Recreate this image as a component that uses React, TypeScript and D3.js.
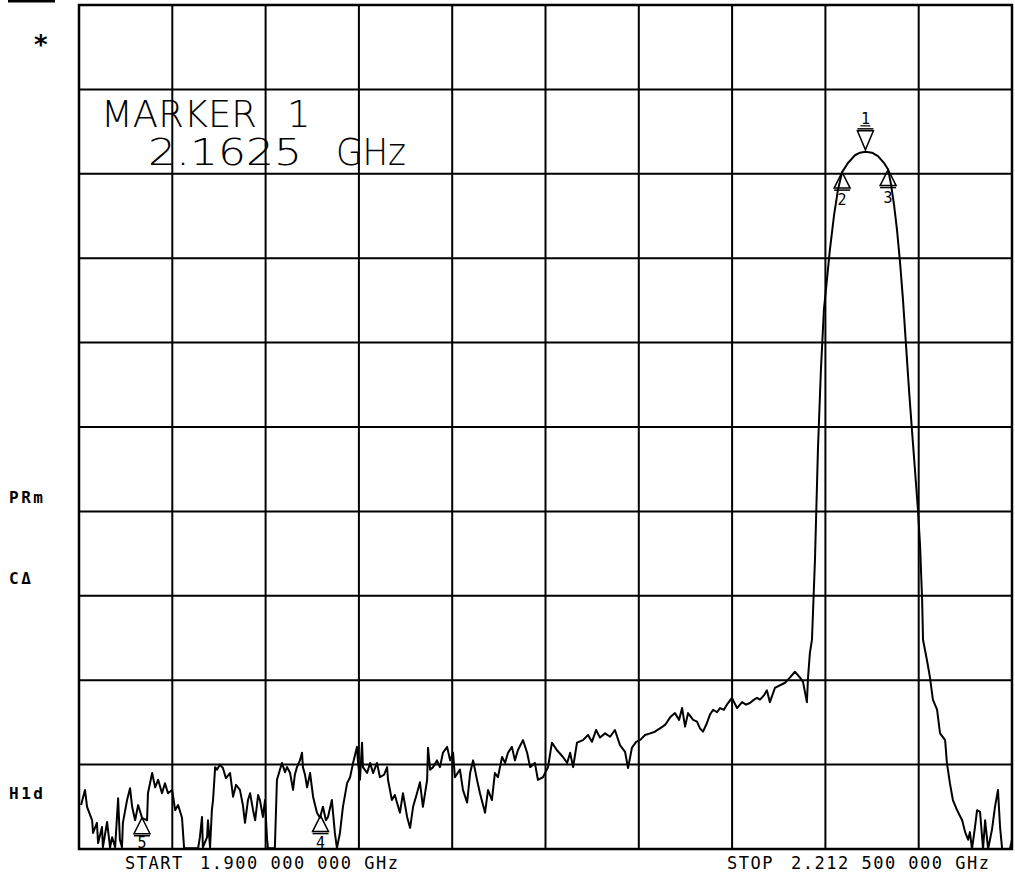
import * as d3 from 'd3'
import { useEffect, useRef } from 'react'

// trace: frequency (MHz) and level (dB, top of screen = 0 dB, 10 dB/div)
const freqMHz = [
  1900.7, 1902.0, 1902.7, 1904.4, 1904.7, 1906.0, 1906.4, 1907.7, 1908.0, 1909.4,
  1910.4, 1911.1, 1912.1, 1913.1, 1913.7, 1914.4, 1914.7, 1916.1, 1917.1, 1917.8,
  1918.8, 1919.8, 1921.1, 1922.8, 1923.1, 1924.5, 1925.5, 1926.5, 1927.8, 1928.8,
  1929.8, 1931.2, 1932.2, 1933.2, 1934.5, 1935.2, 1939.9, 1940.5, 1941.2, 1941.5,
  1942.9, 1943.2, 1943.9, 1944.5, 1944.9, 1945.6, 1946.2, 1947.2, 1948.2, 1949.2,
  1950.6, 1951.6, 1952.6, 1953.9, 1954.9, 1955.6, 1956.6, 1957.3, 1958.3, 1959.0,
  1960.0, 1960.6, 1961.6, 1962.3, 1963.0, 1963.3, 1965.6, 1966.3, 1967.3, 1968.0,
  1969.0, 1969.7, 1970.7, 1971.7, 1972.3, 1973.0, 1974.0, 1974.7, 1975.0, 1975.7,
  1976.4, 1977.4, 1978.4, 1979.7, 1980.7, 1981.7, 1982.7, 1983.4, 1984.7, 1985.7,
  1986.4, 1987.4, 1988.4, 1989.8, 1990.8, 1991.8, 1993.1, 1993.4, 1994.1, 1994.8,
  1995.1, 1996.5, 1997.5, 1998.5, 1999.8, 2000.8, 2002.2, 2003.2, 2003.5, 2004.8,
  2005.8, 2006.5, 2007.5, 2008.5, 2009.9, 2010.9, 2011.9, 2013.2, 2014.2, 2015.2,
  2016.6, 2016.9, 2017.6, 2018.6, 2019.9, 2020.9, 2021.9, 2023.3, 2024.3, 2025.3,
  2025.9, 2027.6, 2028.6, 2030.0, 2031.0, 2032.0, 2033.3, 2034.3, 2036.0, 2037.0,
  2038.3, 2039.3, 2040.3, 2041.7, 2042.7, 2043.7, 2045.0, 2046.0, 2047.0, 2048.7,
  2050.1, 2051.1, 2052.7, 2053.7, 2055.4, 2057.1, 2058.4, 2060.1, 2062.1, 2063.5,
  2064.5, 2065.5, 2066.8, 2068.8, 2070.5, 2071.8, 2073.2, 2074.5, 2076.2, 2077.9,
  2079.5, 2081.2, 2082.9, 2083.9, 2085.2, 2086.6, 2087.9, 2089.6, 2091.3, 2092.9,
  2094.6, 2096.3, 2098.0, 2099.6, 2101.0, 2102.0, 2103.0, 2104.0, 2105.7, 2107.0,
  2108.0, 2109.0, 2110.3, 2111.3, 2112.4, 2113.7, 2114.7, 2116.0, 2117.0, 2118.7,
  2120.4, 2122.1, 2123.4, 2124.7, 2126.1, 2127.1, 2128.1, 2129.4, 2130.4, 2131.4,
  2133.1, 2134.8, 2136.5, 2138.1, 2139.8, 2141.5, 2142.5, 2143.8, 2144.2, 2144.8,
  2145.5, 2146.5, 2147.5, 2148.5, 2149.5, 2150.5, 2151.5, 2152.9, 2154.2, 2155.6,
  2157.6, 2159.9, 2161.6, 2163.4, 2165.6, 2167.6, 2169.6, 2171.0, 2172.0, 2173.0,
  2174.0, 2175.0, 2176.0, 2177.0, 2178.0, 2179.0, 2180.0, 2181.0, 2181.7, 2182.4,
  2182.7, 2184.0, 2185.0, 2186.0, 2187.4, 2188.4, 2190.1, 2190.7, 2191.7, 2192.7,
  2194.1, 2195.8, 2196.8, 2197.8, 2198.4, 2199.1, 2200.1, 2200.8, 2201.8, 2202.8,
  2203.5, 2204.5, 2205.8, 2206.8, 2207.8, 2208.5, 2209.2, 2211.8, 2212.5,
]

const levelDb = [
  -94.8, -93.0, -95.0, -96.6, -98.1, -96.9, -99.3, -97.4, -99.8, -96.8,
  -99.8, -98.6, -99.8, -94.0, -98.9, -99.8, -96.9, -94.2, -92.8, -95.0,
  -96.6, -94.8, -96.3, -96.6, -93.4, -91.0, -92.7, -91.8, -93.4, -92.2,
  -93.4, -93.0, -95.4, -94.8, -96.3, -99.9, -99.9, -98.6, -96.2, -99.8,
  -98.6, -96.6, -99.8, -95.4, -94.2, -90.3, -90.6, -90.0, -90.4, -91.6,
  -91.0, -93.8, -92.4, -93.0, -94.8, -96.9, -94.2, -93.4, -95.4, -96.6,
  -93.6, -94.2, -96.2, -94.2, -98.9, -99.9, -99.9, -91.8, -90.6, -89.8,
  -90.9, -90.3, -91.0, -93.0, -91.2, -90.3, -89.5, -88.6, -90.3, -91.2,
  -92.7, -91.0, -93.8, -95.7, -96.3, -95.0, -96.6, -96.2, -94.2, -98.1,
  -99.9, -98.1, -95.0, -92.2, -91.5, -89.8, -87.9, -89.5, -91.8, -87.4,
  -90.3, -91.0, -89.8, -91.0, -89.8, -91.5, -91.2, -90.3, -91.8, -94.2,
  -93.6, -94.5, -95.7, -93.4, -96.2, -97.5, -95.0, -93.4, -92.1, -95.0,
  -91.8, -88.0, -90.6, -90.3, -89.5, -90.3, -88.6, -87.9, -89.5, -88.6,
  -91.5, -90.6, -93.0, -94.5, -91.0, -89.5, -91.8, -93.4, -95.7, -93.0,
  -94.2, -91.0, -91.5, -89.1, -89.8, -88.6, -87.9, -89.5, -88.3, -87.1,
  -88.6, -90.3, -89.8, -91.8, -91.5, -90.3, -87.4, -88.3, -89.1, -89.8,
  -88.6, -90.3, -87.4, -87.1, -86.5, -87.3, -85.9, -86.8, -86.3, -86.7,
  -85.9, -87.7, -88.5, -90.4, -88.0, -87.3, -87.1, -86.5, -86.3, -86.1,
  -85.7, -85.3, -84.4, -83.9, -84.7, -83.3, -85.5, -83.9, -84.7, -84.9,
  -85.7, -86.1, -85.1, -84.1, -83.5, -83.8, -83.3, -83.5, -82.9, -82.1,
  -83.3, -82.6, -82.9, -82.7, -82.3, -82.1, -82.3, -81.8, -81.2, -82.6,
  -80.9, -80.6, -80.3, -79.7, -79.0, -79.7, -80.2, -82.6, -79.6, -76.8,
  -75.2, -65.8, -52.7, -43.2, -36.1, -32.6, -29.0, -24.9, -21.9, -19.8,
  -18.7, -17.8, -17.5, -17.4, -17.5, -17.9, -18.7, -19.5, -21.3, -23.7,
  -26.7, -30.5, -35.0, -40.3, -45.6, -50.4, -55.1, -59.8, -64.0, -70.5,
  -75.2, -77.6, -79.6, -82.3, -83.5, -86.3, -87.1, -89.8, -92.2, -94.2,
  -95.4, -96.6, -98.0, -98.9, -98.0, -100, -97.4, -95.4, -95.6, -100,
  -96.6, -100, -97.7, -95.0, -93.0, -97.4, -100, -100, -98.9,
]

const markerIds = ['1', '2', '3', '4', '5']
const markerFreqMHz = [2163.4, 2155.6, 2171.0, 1980.9, 1921.1]
const markerPointsDown = [true, false, false, false, false]

const startLabel = ['START', '1.900 000 000 GHz']
const stopLabel = ['STOP', '2.212 500 000 GHz']
const markerReadout = ['MARKER', '1', '2.1625', 'GHz']
const sideLabels = ['PRm', 'CΔ', 'H1d']

const App = () => {
  const ref = useRef<SVGSVGElement>(null)

  useEffect(() => {
    const svg = d3.select(ref.current)
    svg.selectAll('*').remove()

    const left = 79
    const right = 1012
    const top = 5
    const bottom = 849

    const x = d3.scaleLinear().domain([1900, 2212.5]).range([left, right])
    const y = d3.scaleLinear().domain([-100, 0]).range([bottom, top])

    const mono = 'DejaVu Sans Mono, monospace'

    // graticule
    const g = svg.append('g')
    const xDivs = d3.range(1, 10).map((i) => 1900 + i * 31.25)
    const yDivs = d3.range(1, 10).map((i) => -100 + i * 10)

    g.selectAll('.vx')
      .data(xDivs)
      .enter()
      .append('line')
      .attr('x1', (d) => x(d))
      .attr('x2', (d) => x(d))
      .attr('y1', top)
      .attr('y2', bottom)
      .attr('stroke', '#000')
      .attr('stroke-width', 2)

    g.selectAll('.hy')
      .data(yDivs)
      .enter()
      .append('line')
      .attr('x1', left)
      .attr('x2', right)
      .attr('y1', (d) => y(d))
      .attr('y2', (d) => y(d))
      .attr('stroke', '#000')
      .attr('stroke-width', 2)

    g.append('rect')
      .attr('x', left)
      .attr('y', top)
      .attr('width', right - left)
      .attr('height', bottom - top)
      .attr('fill', 'none')
      .attr('stroke', '#000')
      .attr('stroke-width', 2.5)

    // trace
    const pts = freqMHz.map((f, i) => [f, levelDb[i]] as [number, number])
    const line = d3
      .line<[number, number]>()
      .x((d) => x(d[0]))
      .y((d) => y(d[1]))

    svg
      .append('path')
      .datum(pts)
      .attr('d', line)
      .attr('fill', 'none')
      .attr('stroke', '#000')
      .attr('stroke-width', 2)
      .attr('stroke-linejoin', 'round')

    // markers sit on the trace
    const levelAt = d3.scaleLinear().domain(freqMHz).range(levelDb)

    markerIds.forEach((id, i) => {
      const mx = x(markerFreqMHz[i])
      const my = y(levelAt(markerFreqMHz[i]))
      const mg = svg.append('g')
      if (markerPointsDown[i]) {
        mg.append('path')
          .attr('d', `M${mx - 8},${my - 21} L${mx + 8},${my - 21} L${mx},${my - 2} Z`)
          .attr('fill', 'none')
          .attr('stroke', '#000')
          .attr('stroke-width', 1.5)
        mg.append('line')
          .attr('x1', mx - 8)
          .attr('x2', mx + 8)
          .attr('y1', my - 23)
          .attr('y2', my - 23)
          .attr('stroke', '#000')
          .attr('stroke-width', 1.5)
        mg.append('text')
          .attr('x', mx)
          .attr('y', my - 28)
          .attr('text-anchor', 'middle')
          .attr('font-family', mono)
          .attr('font-size', 15)
          .text(id)
        mg.append('line')
          .attr('x1', mx - 5)
          .attr('x2', mx + 5)
          .attr('y1', my - 26)
          .attr('y2', my - 26)
          .attr('stroke', '#000')
          .attr('stroke-width', 1.2)
      } else {
        mg.append('path')
          .attr('d', `M${mx},${my} L${mx + 8},${my + 16} L${mx - 8},${my + 16} Z`)
          .attr('fill', 'none')
          .attr('stroke', '#000')
          .attr('stroke-width', 1.5)
        mg.append('line')
          .attr('x1', mx - 8)
          .attr('x2', mx + 8)
          .attr('y1', my + 18)
          .attr('y2', my + 18)
          .attr('stroke', '#000')
          .attr('stroke-width', 1.5)
        mg.append('text')
          .attr('x', mx)
          .attr('y', Math.min(my + 33, bottom - 1))
          .attr('text-anchor', 'middle')
          .attr('font-family', mono)
          .attr('font-size', 15)
          .text(id)
      }
    })

    // marker readout, thin vector-like lettering
    const readout = svg
      .append('g')
      .attr('font-family', 'DejaVu Sans, sans-serif')
      .attr('font-weight', 200)
      .attr('font-size', 37)
      .attr('fill', '#000')
    readout.append('text').attr('x', 101).attr('y', 127).attr('textLength', 156).attr('lengthAdjust', 'spacingAndGlyphs').text(markerReadout[0])
    readout.append('text').attr('x', 287).attr('y', 127).text(markerReadout[1])
    readout.append('text').attr('x', 148).attr('y', 165).attr('textLength', 154).attr('lengthAdjust', 'spacingAndGlyphs').text(markerReadout[2])
    readout.append('text').attr('x', 336).attr('y', 165).attr('textLength', 70).attr('lengthAdjust', 'spacingAndGlyphs').text(markerReadout[3])

    // start / stop annotation
    const foot = svg
      .append('g')
      .attr('font-family', mono)
      .attr('font-size', 17)
      .attr('letter-spacing', 1.5)
    foot.append('text').attr('x', 125).attr('y', 869).text(startLabel[0])
    foot.append('text').attr('x', 200).attr('y', 869).text(startLabel[1])
    foot.append('text').attr('x', 727).attr('y', 869).text(stopLabel[0])
    foot.append('text').attr('x', 791).attr('y', 869).text(stopLabel[1])

    // left-hand annotations
    const side = svg
      .append('g')
      .attr('font-family', mono)
      .attr('font-weight', 'bold')
      .attr('font-size', 16)
      .attr('letter-spacing', 2.5)
    side.append('text').attr('x', 9).attr('y', 503).text(sideLabels[0])
    side.append('text').attr('x', 9).attr('y', 584).text(sideLabels[1])
    side.append('text').attr('x', 9).attr('y', 799).text(sideLabels[2])

    svg
      .append('text')
      .attr('x', 34)
      .attr('y', 54)
      .attr('font-family', 'DejaVu Sans, sans-serif')
      .attr('font-weight', 'bold')
      .attr('font-size', 26)
      .text('*')

    // cut-off frame at the top left corner
    svg
      .append('line')
      .attr('x1', 8)
      .attr('x2', 55)
      .attr('y1', 1)
      .attr('y2', 1)
      .attr('stroke', '#000')
      .attr('stroke-width', 3)
  }, [])

  return (
    <svg
      ref={ref}
      width={1015}
      height={872}
      style={{ position: 'absolute', left: 0, top: 0, background: '#fff' }}
    />
  )
}

export default App
